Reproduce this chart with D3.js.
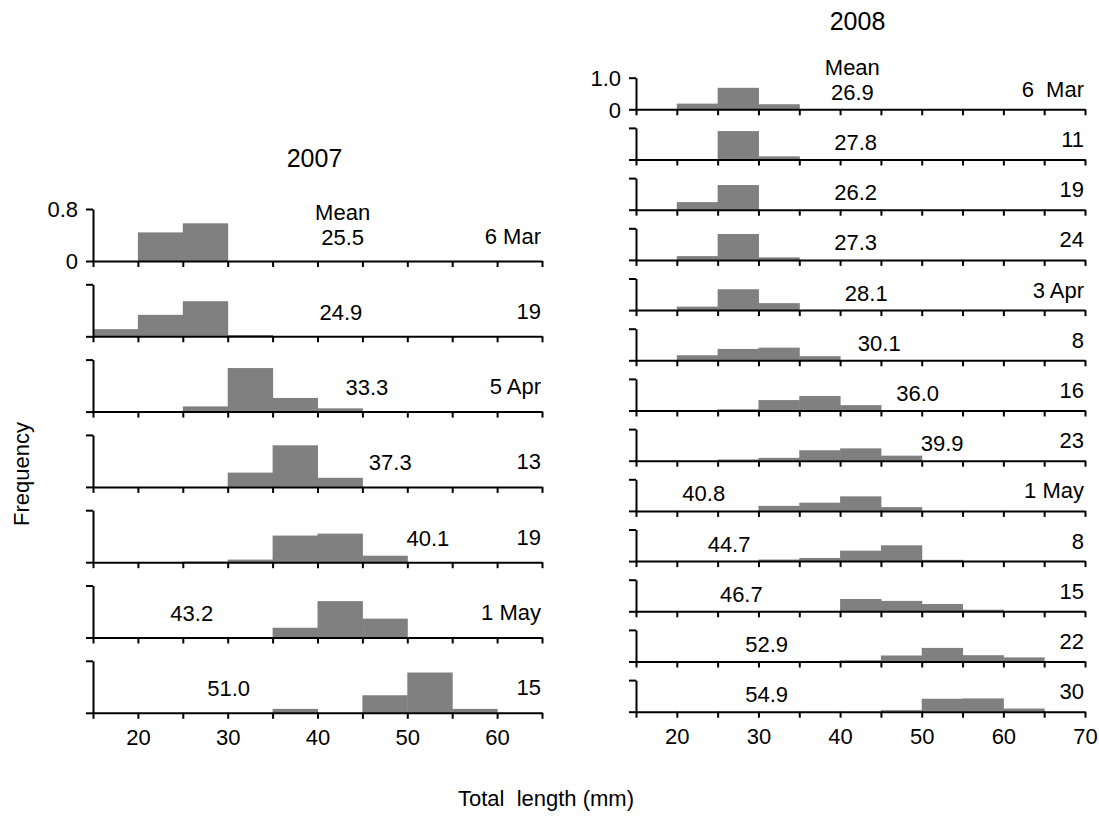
<!DOCTYPE html>
<html>
<head>
<meta charset="utf-8">
<script src="https://cdn.jsdelivr.net/npm/d3@7"></script>
<style>
  body { margin: 0; background: #fff; }
  svg { display: block; font-family: "Liberation Sans", Arial, sans-serif; }
</style>
</head>
<body>
<div id="chart"></div>
<script>
// bin lower edges (mm), 5 mm wide
const binStarts2007 = [15, 20, 25, 30, 35, 40, 45, 50, 55, 60];
const binStarts2008 = [15, 20, 25, 30, 35, 40, 45, 50, 55, 60, 65];

const dates2007 = ["6 Mar", "19", "5 Apr", "13", "19", "1 May", "15"];
const means2007 = ["25.5", "24.9", "33.3", "37.3", "40.1", "43.2", "51.0"];
const freq2007 = [
  [0, 0.44, 0.58, 0, 0, 0, 0, 0, 0, 0],
  [0.11, 0.33, 0.54, 0.02, 0, 0, 0, 0, 0, 0],
  [0, 0, 0.08, 0.67, 0.21, 0.05, 0, 0, 0, 0],
  [0, 0, 0, 0.22, 0.64, 0.14, 0, 0, 0, 0],
  [0, 0, 0.01, 0.04, 0.41, 0.44, 0.10, 0, 0, 0],
  [0, 0, 0, 0, 0.15, 0.56, 0.29, 0, 0, 0],
  [0, 0, 0, 0, 0.06, 0, 0.27, 0.62, 0.06, 0]
];

const dates2008 = ["6  Mar", "11", "19", "24", "3 Apr", "8", "16", "23", "1 May", "8", "15", "22", "30"];
const means2008 = ["26.9", "27.8", "26.2", "27.3", "28.1", "30.1", "36.0", "39.9", "40.8", "44.7", "46.7", "52.9", "54.9"];
const freq2008 = [
  [0, 0.18, 0.68, 0.16, 0, 0, 0, 0, 0, 0, 0],
  [0, 0, 0.90, 0.10, 0, 0, 0, 0, 0, 0, 0],
  [0, 0.24, 0.78, 0, 0, 0, 0, 0, 0, 0, 0],
  [0, 0.12, 0.82, 0.08, 0, 0, 0, 0, 0, 0, 0],
  [0, 0.11, 0.66, 0.22, 0, 0, 0, 0, 0, 0, 0],
  [0, 0.16, 0.36, 0.40, 0.13, 0, 0, 0, 0, 0, 0],
  [0, 0, 0.04, 0.33, 0.46, 0.17, 0, 0, 0, 0, 0],
  [0, 0, 0.04, 0.09, 0.33, 0.39, 0.16, 0, 0, 0, 0],
  [0, 0, 0, 0.16, 0.26, 0.46, 0.12, 0, 0, 0, 0],
  [0, 0, 0, 0.05, 0.10, 0.33, 0.50, 0.04, 0, 0, 0],
  [0, 0, 0, 0, 0, 0.39, 0.33, 0.23, 0.05, 0, 0],
  [0, 0, 0, 0, 0, 0.04, 0.19, 0.43, 0.20, 0.13, 0],
  [0, 0, 0, 0, 0, 0, 0.05, 0.41, 0.42, 0.10, 0]
];

const xTickLabels2007 = [20, 30, 40, 50, 60];
const xTickLabels2008 = [20, 30, 40, 50, 60, 70];

// where the mean value sits along the length axis (layout only)
const meanAt2007 = [42.8, 42.6, 45.5, 48.1, 52.3, 26.0, 30.1];
const meanAt2008 = [41.5, 41.9, 41.9, 41.9, 43.2, 44.8, 49.5, 52.5, 23.3, 26.4, 27.9, 31.0, 31.0];

const W = 1099, H = 818;

const svg = d3.select("#chart").append("svg")
  .attr("width", W)
  .attr("height", H);

svg.append("rect").attr("width", W).attr("height", H).attr("fill", "#fff");

class HistStack {
  constructor(_config) {
    this.config = {
      svg: _config.svg,
      xLeft: _config.xLeft,
      xRight: _config.xRight,
      xMax: _config.xMax,
      firstBase: _config.firstBase,
      step: _config.step,
      panelH: _config.panelH,
      yMax: _config.yMax,
      yMaxLabel: _config.yMaxLabel,
      bins: _config.bins,
      freq: _config.freq,
      dates: _config.dates,
      means: _config.means,
      meanAt: _config.meanAt,
      meanDy: _config.meanDy || 20,
      dateDy: _config.dateDy || 20,
      tickLabels: _config.tickLabels,
      title: _config.title,
      titleY: _config.titleY
    };
    this.initVis();
  }

  initVis() {
    let vis = this;
    const c = vis.config;

    vis.x = d3.scaleLinear().domain([15, c.xMax]).range([c.xLeft, c.xRight]);
    vis.y = d3.scaleLinear().domain([0, c.yMax]).range([0, -c.panelH]);

    vis.root = c.svg.append("g");

    vis.root.append("text")
      .attr("x", (c.xLeft + c.xRight) / 2 - 3)
      .attr("y", c.titleY)
      .attr("text-anchor", "middle")
      .attr("dominant-baseline", "central")
      .attr("font-size", 25)
      .text(c.title);

    vis.panels = vis.root.selectAll(".panel")
      .data(c.freq)
      .join("g")
      .attr("class", "panel")
      .attr("transform", (d, i) => `translate(0,${c.firstBase + i * c.step})`);

    vis.updateVis();
  }

  updateVis() {
    let vis = this;
    const c = vis.config;
    const n = c.freq.length;

    // bars
    vis.panels.selectAll("rect")
      .data(d => d.map((v, j) => ({ start: c.bins[j], v })).filter(b => b.v > 0))
      .join("rect")
      .attr("x", b => vis.x(b.start))
      .attr("width", b => vis.x(b.start + 5) - vis.x(b.start) + 0.5)
      .attr("y", b => vis.y(b.v))
      .attr("height", b => -vis.y(b.v))
      .attr("fill", "#808080");

    // x axis on every panel, numbers only on the last one
    vis.panels.each(function (d, i) {
      const g = d3.select(this);
      const xAxis = d3.axisBottom(vis.x)
        .tickValues(d3.range(15, c.xMax + 1, 5))
        .tickSize(6)
        .tickSizeOuter(0)
        .tickPadding(11)
        .tickFormat(t => (i === n - 1 && c.tickLabels.includes(t)) ? t : "");

      const yAxis = d3.axisLeft(vis.y)
        .tickValues([0, c.yMax])
        .tickSize(7)
        .tickSizeOuter(0)
        .tickPadding(8)
        .tickFormat(t => i === 0 ? (t === 0 ? "0" : c.yMaxLabel) : "");

      const ya = g.append("g")
        .attr("transform", `translate(${c.xLeft},0)`)
        .call(yAxis);
      const xa = g.append("g").call(xAxis);

      [xa, ya].forEach(a => {
        a.select(".domain").attr("stroke", "#000").attr("stroke-width", 2);
        a.selectAll(".tick line").attr("stroke", "#000").attr("stroke-width", 2);
        a.selectAll(".tick text")
          .attr("fill", "#000")
          .attr("font-size", 22)
          .attr("font-family", "Liberation Sans, Arial, sans-serif");
      });
      ya.selectAll(".tick text").attr("dy", "0.36em");

      // mean value
      g.append("text")
        .attr("x", vis.x(c.meanAt[i]))
        .attr("y", -c.meanDy)
        .attr("text-anchor", "middle")
        .attr("dominant-baseline", "central")
        .attr("font-size", 22)
        .text(c.means[i]);

      if (i === 0) {
        g.append("text")
          .attr("x", vis.x(c.meanAt[i]))
          .attr("y", -c.meanDy - 25)
          .attr("text-anchor", "middle")
          .attr("dominant-baseline", "central")
          .attr("font-size", 22)
          .text("Mean");
      }

      // sampling date
      g.append("text")
        .attr("x", c.xRight - 1)
        .attr("y", -c.dateDy)
        .attr("text-anchor", "end")
        .attr("dominant-baseline", "central")
        .attr("font-size", 22)
        .style("white-space", "pre")
        .text(c.dates[i]);
    });
  }
}

const left = new HistStack({
  svg, xLeft: 93, xRight: 542, xMax: 65,
  firstBase: 261, step: 75.3, panelH: 52, yMax: 0.8, yMaxLabel: "0.8",
  bins: binStarts2007, freq: freq2007, dates: dates2007, means: means2007,
  meanAt: meanAt2007, meanDy: 24, dateDy: 25, tickLabels: xTickLabels2007,
  title: "2007", titleY: 158
});

const right = new HistStack({
  svg, xLeft: 636, xRight: 1085, xMax: 70,
  firstBase: 109.3, step: 50.2, panelH: 31.6, yMax: 1.0, yMaxLabel: "1.0",
  bins: binStarts2008, freq: freq2008, dates: dates2008, means: means2008,
  meanAt: meanAt2008, meanDy: 17, dateDy: 20, tickLabels: xTickLabels2008,
  title: "2008", titleY: 21
});

// shared axis titles
svg.append("text")
  .attr("transform", "translate(21,474) rotate(-90)")
  .attr("text-anchor", "middle")
  .attr("dominant-baseline", "central")
  .attr("font-size", 22)
  .text("Frequency");

svg.append("text")
  .attr("x", 546)
  .attr("y", 798)
  .attr("text-anchor", "middle")
  .attr("dominant-baseline", "central")
  .attr("font-size", 22)
  .style("white-space", "pre")
  .text("Total  length (mm)");
</script>
</body>
</html>
